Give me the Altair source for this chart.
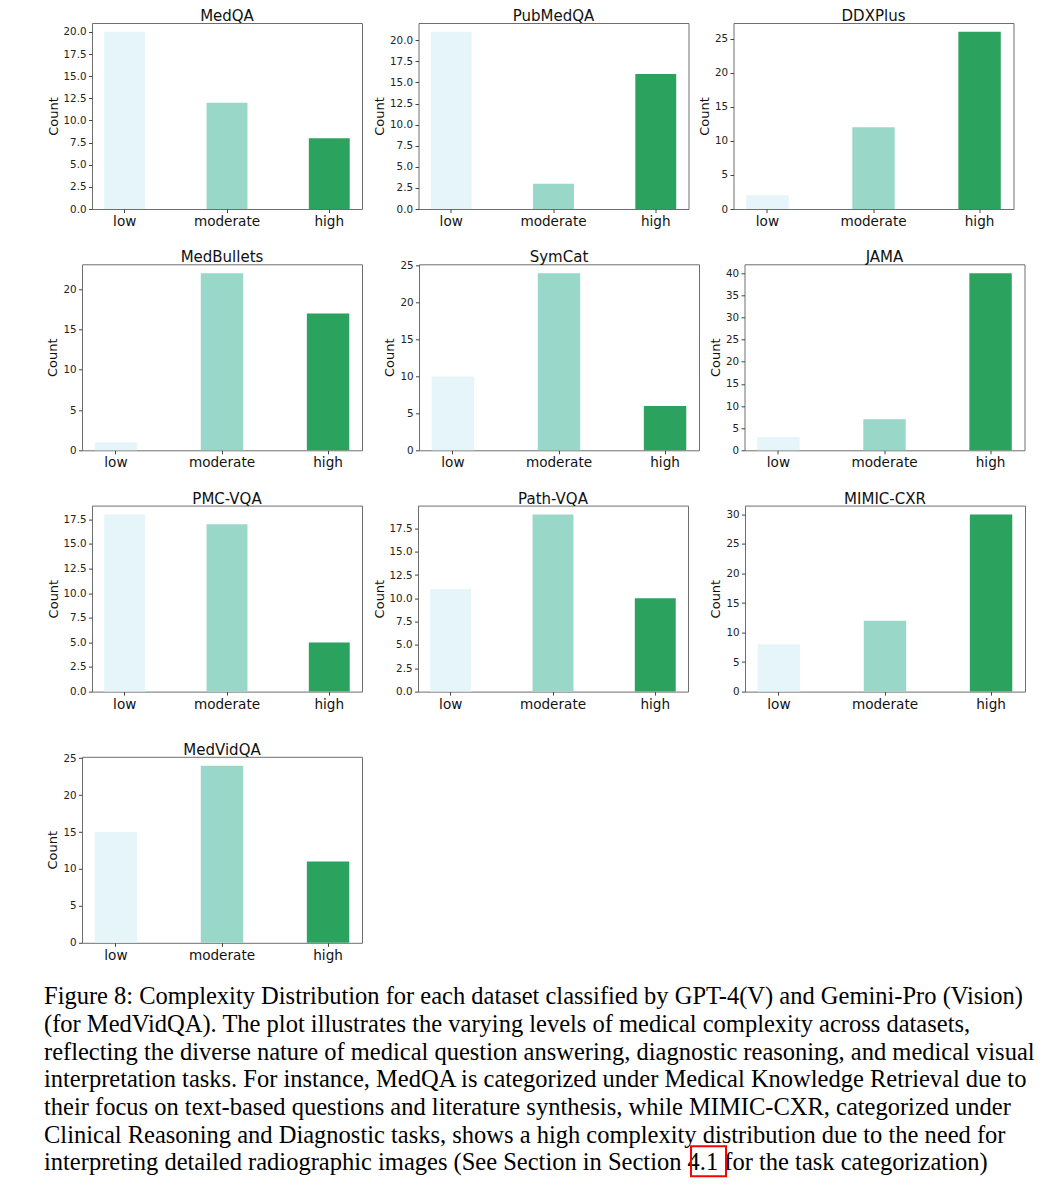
import altair as alt
import pandas as pd

categories = ["low", "moderate", "high"]
bar_colors = ["#e5f5f9", "#99d8c9", "#2ca25f"]

medqa = [20, 12, 8]
pubmedqa = [21, 3, 16]
ddxplus = [2, 12, 26]
medbullets = [1, 22, 17]
symcat = [10, 24, 6]
jama = [3, 7, 40]
pmc_vqa = [18, 17, 5]
path_vqa = [11, 19, 10]
mimic_cxr = [8, 12, 30]
medvidqa = [15, 24, 11]

ticks_2_5_to_20 = [0, 2.5, 5, 7.5, 10, 12.5, 15, 17.5, 20]
ticks_2_5_to_17_5 = [0, 2.5, 5, 7.5, 10, 12.5, 15, 17.5]
ticks_5_to_20 = [0, 5, 10, 15, 20]
ticks_5_to_25 = [0, 5, 10, 15, 20, 25]
ticks_5_to_30 = [0, 5, 10, 15, 20, 25, 30]
ticks_5_to_40 = [0, 5, 10, 15, 20, 25, 30, 35, 40]

caption_lines = [
    "Figure 8: Complexity Distribution for each dataset classified by GPT-4(V) and Gemini-Pro (Vision)",
    "(for MedVidQA). The plot illustrates the varying levels of medical complexity across datasets,",
    "reflecting the diverse nature of medical question answering, diagnostic reasoning, and medical visual",
    "interpretation tasks. For instance, MedQA is categorized under Medical Knowledge Retrieval due to",
    "their focus on text-based questions and literature synthesis, while MIMIC-CXR, categorized under",
    "Clinical Reasoning and Diagnostic tasks, shows a high complexity distribution due to the need for",
    "interpreting detailed radiographic images (See Section in Section 4.1 for the task categorization)",
]

FONT = "DejaVu Sans"
PLOT_H = 186
TICK_FONT = 10.3
NO_FRAME = alt.ViewBackground(stroke="transparent")
FRAME = alt.ViewBackground(stroke="#6e6e6e", strokeWidth=1)


def panel(name, values, ticks, fmt, width):
    df = pd.DataFrame({"level": categories, "count": values})
    top = max(values) * 1.05
    # keep the title at the same height even when the top tick label pokes above the frame
    overhang = max(0.0, TICK_FONT / 2 - PLOT_H * (1 - max(ticks) / top))
    return (
        alt.Chart(df, title=alt.Title(name, fontSize=15, fontWeight="normal", font=FONT,
                                      color="#111111", offset=-1 - overhang))
        .mark_bar()
        .encode(
            x=alt.X("level:N", sort=categories,
                    scale=alt.Scale(paddingInner=0.6, paddingOuter=0.12),
                    axis=alt.Axis(title=None, labelAngle=0, labelFontSize=13.6, labelFont=FONT,
                                  labelColor="#111111", tickSize=3.5, tickColor="#444444",
                                  labelPadding=2, domain=False, grid=False)),
            y=alt.Y("count:Q", scale=alt.Scale(domain=[0, top], nice=False, zero=True),
                    axis=alt.Axis(title="Count", values=ticks, format=fmt,
                                  labelFontSize=TICK_FONT, labelFont=FONT, labelColor="#222222",
                                  tickSize=3.5, tickColor="#444444", labelPadding=2.5,
                                  titleFontSize=13, titleFont=FONT, titleFontWeight="normal",
                                  titleColor="#111111", titlePadding=3, domain=False,
                                  grid=False, labelOverlap=False)),
            color=alt.Color("level:N", scale=alt.Scale(domain=categories, range=bar_colors),
                            legend=None),
        )
        .properties(width=width, height=PLOT_H, view=FRAME)
    )


def spacer():
    return (
        alt.Chart(pd.DataFrame({"k": [0]}))
        .mark_text(text=" ", size=1)
        .encode(x=alt.value(0), y=alt.value(0))
        .properties(width=1, height=1, view=NO_FRAME)
    )


p_medqa = panel("MedQA", medqa, ticks_2_5_to_20, ".1f", 270)
p_pubmedqa = panel("PubMedQA", pubmedqa, ticks_2_5_to_20, ".1f", 270)
p_ddxplus = panel("DDXPlus", ddxplus, ticks_5_to_25, "d", 280)
p_medbullets = panel("MedBullets", medbullets, ticks_5_to_20, "d", 280)
p_symcat = panel("SymCat", symcat, ticks_5_to_25, "d", 280)
p_jama = panel("JAMA", jama, ticks_5_to_40, "d", 280)
p_pmc = panel("PMC-VQA", pmc_vqa, ticks_2_5_to_17_5, ".1f", 270)
p_path = panel("Path-VQA", path_vqa, ticks_2_5_to_17_5, ".1f", 270)
p_mimic = panel("MIMIC-CXR", mimic_cxr, ticks_5_to_30, "d", 280)
p_medvid = panel("MedVidQA", medvidqa, ticks_5_to_25, "d", 280)

row1 = alt.hconcat(spacer(), alt.hconcat(alt.hconcat(p_medqa, p_pubmedqa, spacing=9.5),
                                         p_ddxplus, spacing=8.5), spacing=0)
row2 = alt.hconcat(spacer(), alt.hconcat(alt.hconcat(p_medbullets, p_symcat, spacing=20),
                                         p_jama, spacing=8.5), spacing=0)
row3 = alt.hconcat(spacer(), alt.hconcat(alt.hconcat(p_pmc, p_path, spacing=9),
                                         p_mimic, spacing=20), spacing=0)
row4 = alt.hconcat(spacer(), p_medvid, spacing=0)

caption_text = (
    alt.Chart(pd.DataFrame({"k": [0]}))
    .mark_text(text=caption_lines, align="left", baseline="top", font="Liberation Serif",
               fontSize=24.5, lineHeight=27.7, color="black")
    .encode(x=alt.value(0), y=alt.value(0))
)
link_box = (
    alt.Chart(pd.DataFrame({"k": [0]}))
    .mark_rect(fillOpacity=0, stroke="#ff0000", strokeWidth=2)
    .encode(x=alt.value(647), x2=alt.value(682), y=alt.value(161), y2=alt.value(191))
)
caption = alt.layer(caption_text, link_box).properties(width=900, height=186, view=NO_FRAME)

chart = (
    alt.concat(
        alt.concat(
            alt.concat(row1, row2, row3, columns=1, spacing=20.3, align="none"),
            row4,
            columns=1,
            spacing=29.8,
            align="none",
        ),
        caption,
        columns=1,
        spacing=20.2,
        align="none",
    )
    .properties(padding={"left": 35, "top": 0, "right": 0, "bottom": 0})
    .configure_view(stroke="#6e6e6e", strokeWidth=1)
    .configure(background="white")
)

chart.save("out.html", embed_options={"renderer": "svg", "actions": False})
